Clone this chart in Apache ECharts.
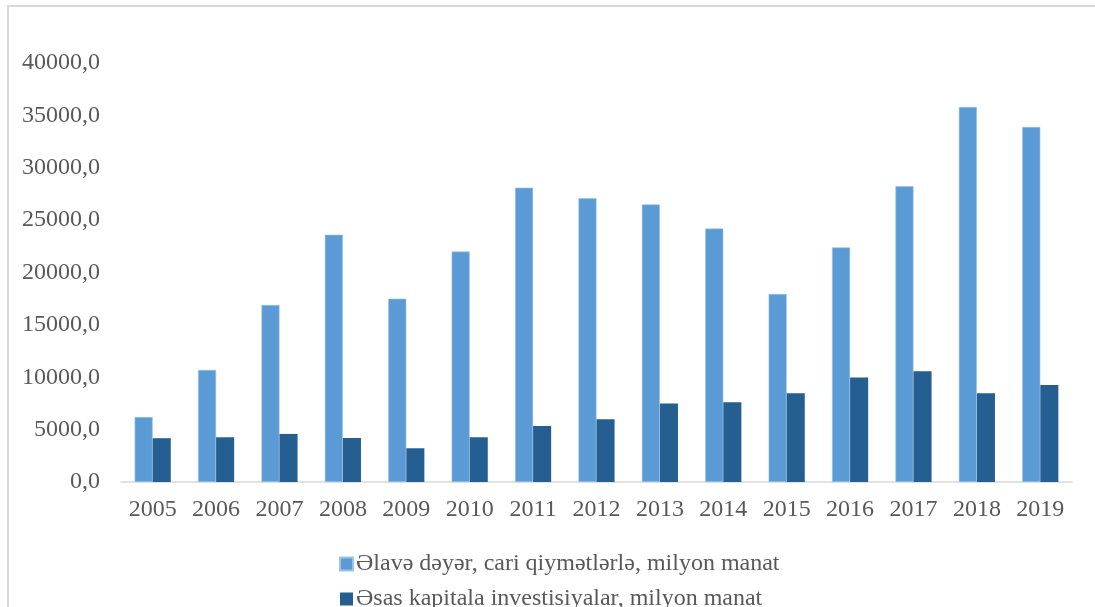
<!DOCTYPE html>
<html>
<head>
<meta charset="UTF-8">
<title>Əlavə dəyər və əsas kapitala investisiyalar</title>
<script src="https://cdn.jsdelivr.net/npm/echarts@6/dist/echarts.min.js"></script>
<style>
 html,body{margin:0;padding:0;background:#fff;overflow:hidden;}
 #frame{position:absolute;left:7px;top:5px;width:1200px;height:700px;border-top:2px solid #d9d9d9;border-left:2px solid #d9d9d9;}
 #mainChart{position:absolute;left:0;top:0;width:1095px;height:607px;}
</style>
</head>
<body>
<div id="frame"></div>
<div id="mainChart"></div>
<script type="text/javascript">
// illər
var years = ['2005','2006','2007','2008','2009','2010','2011','2012','2013','2014','2015','2016','2017','2018','2019'];
// Əlavə dəyər, cari qiymətlərlə, milyon manat
var addedValue = [6200, 10700, 16900, 23600, 17500, 22000, 28100, 27100, 26500, 24200, 17950, 22400, 28250, 35800, 33900];
// Əsas kapitala investisiyalar, milyon manat
var investments = [4180, 4270, 4590, 4200, 3220, 4270, 5350, 6000, 7500, 7620, 8480, 9970, 10580, 8480, 9270];
var seriesNames = ['Əlavə dəyər, cari qiymətlərlə, milyon manat', 'Əsas kapitala investisiyalar, milyon manat'];

var myChart = echarts.init(document.getElementById('mainChart'));
var font = '"Liberation Serif", "Times New Roman", serif';
var option = {
    backgroundColor: 'transparent',
    animation: false,
    textStyle: { fontFamily: font },
    grid: { left: 121, right: 23, top: 63, bottom: 125 },
    legend: {
        orient: 'vertical',
        left: 334,
        top: 547,
        height: 90,
        itemWidth: 13,
        itemHeight: 13,
        itemGap: 11,
        icon: 'rect',
        textStyle: { fontFamily: font, fontSize: 24, color: '#595959', padding: [0, 0, 0, -2] },
        data: seriesNames
    },
    xAxis: {
        type: 'category',
        data: years,
        axisLine: { lineStyle: { color: '#d9d9d9', width: 1.5 } },
        axisTick: { show: false },
        axisLabel: { fontFamily: font, fontSize: 24, color: '#595959', margin: 16 }
    },
    yAxis: {
        type: 'value',
        min: 0,
        max: 40000,
        interval: 5000,
        axisLine: { show: false },
        axisTick: { show: false },
        splitLine: { show: false },
        axisLabel: {
            fontFamily: font, fontSize: 24, color: '#595959', margin: 21,
            formatter: function (v) { return v.toFixed(1).replace('.', ','); }
        }
    },
    series: [
        {
            name: seriesNames[0],
            type: 'bar',
            barGap: '0%',
            barCategoryGap: '43%',
            itemStyle: { color: '#5B9BD5', borderColor: '#9DC3E6', borderWidth: 0.6 },
            data: addedValue
        },
        {
            name: seriesNames[1],
            type: 'bar',
            barGap: '0%',
            barCategoryGap: '43%',
            itemStyle: { color: '#255E91' },
            data: investments
        }
    ]
};
myChart.setOption(option);
</script>
</body>
</html>
